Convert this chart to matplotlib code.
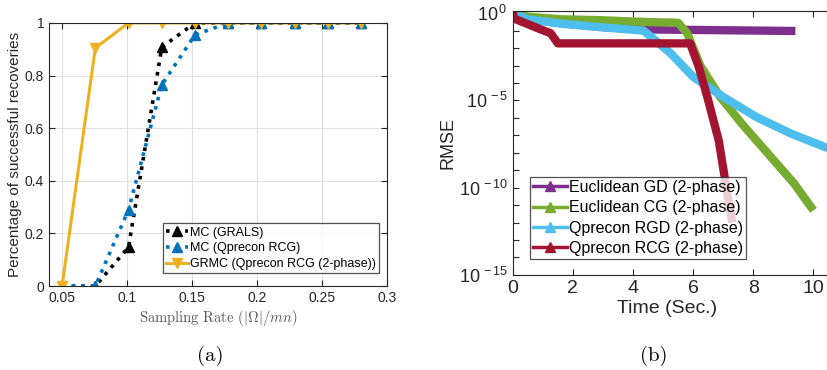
import numpy as np
import matplotlib
matplotlib.use("Agg")
import matplotlib.pyplot as plt
from matplotlib.lines import Line2D

plt.rcParams['font.family'] = ['Liberation Sans', 'DejaVu Sans']
plt.rcParams['mathtext.fontset'] = 'custom'
plt.rcParams['mathtext.rm'] = 'Liberation Sans'
plt.rcParams['mathtext.it'] = 'Liberation Sans:italic'

# ---- panel (a) data
rates = [0.05, 0.0756, 0.1011, 0.1267, 0.1522, 0.1778, 0.2033, 0.2289, 0.2544, 0.28]
mc_grals = [0, 0, 0.148, 0.908, 1, 1, 1, 1, 1, 1]
mc_qprecon = [0, 0, 0.29, 0.765, 0.955, 1, 1, 1, 1, 1]
grmc = [0, 0.905, 1, 1, 1, 1, 1, 1, 1, 1]

# ---- panel (b) data (time, log10 RMSE)
gd_t = [0, 0.5, 1.5, 3.0, 4.4, 9.4]
gd_log = [0, -0.3, -0.55, -0.8, -0.93, -1.02]
cg_t = [0, 0.5, 1.6, 2.9, 4.35, 5.5, 5.8, 6.25, 6.9, 7.6, 9.35, 10.0]
cg_log = [0, -0.2, -0.35, -0.4, -0.5, -0.55, -1.15, -3.05, -4.8, -6.3, -9.75, -11.3]
rgd_t = [0, 0.5, 1.6, 2.9, 4.35, 4.7, 5.25, 6.0, 7.0, 8.1, 9.25, 10.5, 11.0]
rgd_log = [0, -0.35, -0.6, -0.8, -1.0, -1.5, -2.3, -3.65, -4.8, -5.95, -6.9, -7.75, -8.1]
rcg_t = [0, 0.03, 0.83, 1.26, 1.5, 5.9, 6.19, 6.47, 6.85, 7.08, 7.3]
rcg_log = [0.2, -0.3, -0.86, -1.15, -1.73, -1.73, -3.1, -4.8, -7.3, -9.75, -12.0]

tick_col = '#262626'

fig = plt.figure(figsize=(8.27, 3.70), dpi=100)

# ================= (a)
ax1 = fig.add_axes([0.0593, 0.227, 0.409, 0.711])
ax1.plot(rates, mc_grals, color='black', ls=':', lw=2.6, marker='^', ms=7, label='MC (GRALS)')
ax1.plot(rates, mc_qprecon, color='#0072BD', ls=':', lw=2.6, marker='^', ms=7, label='MC (Qprecon RCG)')
ax1.plot(rates, grmc, color='#EDB120', ls='-', lw=2.2, marker='v', ms=7, label='GRMC (Qprecon RCG (2-phase))')
ax1.set_xlim(0.04, 0.3)
ax1.set_ylim(0, 1)
ax1.set_xticks([0.05, 0.1, 0.15, 0.2, 0.25, 0.3])
ax1.set_xticklabels(['0.05', '0.1', '0.15', '0.2', '0.25', '0.3'])
ax1.set_yticks([0, 0.2, 0.4, 0.6, 0.8, 1])
ax1.set_yticklabels(['0', '0.2', '0.4', '0.6', '0.8', '1'])
ax1.grid(True, color='#e0e0e0', lw=0.8)
ax1.tick_params(direction='in', top=True, right=True, labelsize=10, colors=tick_col, length=4)
for s in ax1.spines.values():
    s.set_color(tick_col)
ax1.set_ylabel('Percentage of successful recoveries', fontsize=11, color=tick_col, labelpad=2)
ax1.set_xlabel(r'Sampling Rate $(|\Omega|/mn)$', fontsize=10.5, color='#555555',
               family='cmr10', labelpad=2)
ax1.xaxis.label.set_math_fontfamily('cm')
leg1 = ax1.legend(loc='lower right', fontsize=9, frameon=True, fancybox=False, edgecolor=tick_col,
                  borderpad=0.25, labelspacing=0.3, handlelength=1.7, handletextpad=0.2,
                  bbox_to_anchor=(0.994, 0.025))
leg1.get_frame().set_linewidth(0.9)
fig.text(0.254, 0.025, '(a)', ha='center', fontsize=15, family='cmr10')

# ================= (b)
ax2 = fig.add_axes([0.620, 0.257, 0.400, 0.713])
cols = ['#7E2F8E', '#77AC30', '#4DBEEE', '#A2142F']
series = [(gd_t, gd_log), (cg_t, cg_log), (rgd_t, rgd_log), (rcg_t, rcg_log)]
names = ['Euclidean GD (2-phase)', 'Euclidean CG (2-phase)', 'Qprecon RGD (2-phase)', 'Qprecon RCG (2-phase)']
for (t, lg), c in zip(series, cols):
    ax2.semilogy(t, 10.0 ** np.array(lg), color=c, lw=6, solid_capstyle='butt', solid_joinstyle='round')
ax2.set_xlim(0, 11)
ax2.set_ylim(1e-15, 10 ** 0.12)
ax2.set_xticks([0, 2, 4, 6, 8, 10])
ax2.set_yticks([10.0 ** k for k in range(-15, 1)])
ax2.set_yticklabels([r'$10^{\,%d}$' % k if k % 5 == 0 else '' for k in range(-15, 1)])
ax2.minorticks_off()
ax2.tick_params(direction='in', top=True, right=False, labelsize=13, colors=tick_col, length=4)
ax2.tick_params(axis='x', labelsize=14)
for s in ax2.spines.values():
    s.set_color(tick_col)
ax2.set_ylabel('RMSE', fontsize=13, color=tick_col, labelpad=2)
ax2.set_xlabel('Time (Sec.)', fontsize=14, color=tick_col, labelpad=2)
ax2.xaxis.set_label_coords(0.468, -0.095)
handles = [Line2D([], [], color=c, lw=2.5, marker='^', ms=7) for c in cols]
leg2 = ax2.legend(handles, names, loc='lower left', fontsize=11.5, frameon=True, fancybox=False,
                  edgecolor=tick_col, borderpad=0.2, labelspacing=0.33, handlelength=2.1,
                  handletextpad=0.15, bbox_to_anchor=(0.028, 0.03))
leg2.get_frame().set_linewidth(0.9)
fig.text(0.79, 0.025, '(b)', ha='center', fontsize=15, family='cmr10')

fig.savefig('out.png', dpi=100)
